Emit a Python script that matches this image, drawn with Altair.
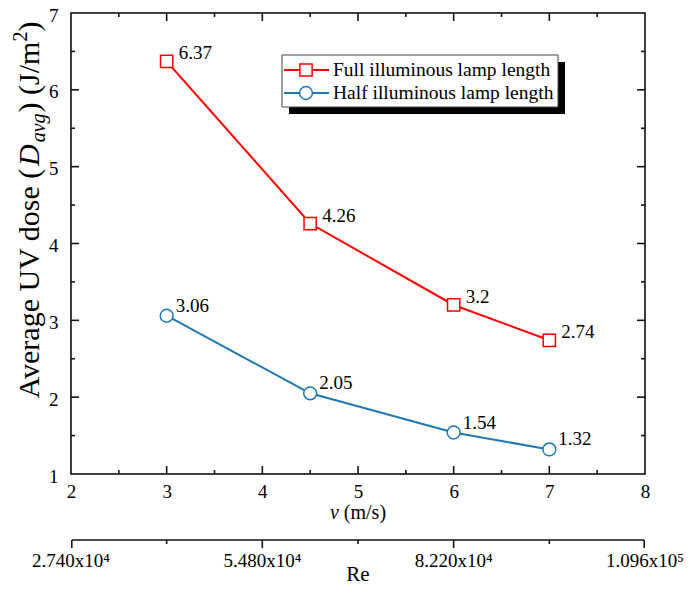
import altair as alt
import pandas as pd

# ---------------- data ----------------
velocity = [3, 4.5, 6, 7]
dose_full = [6.37, 4.26, 3.2, 2.74]
dose_half = [3.06, 2.05, 1.54, 1.32]
label_full = ["6.37", "4.26", "3.2", "2.74"]
label_half = ["3.06", "2.05", "1.54", "1.32"]
series_names = ["Full illuminous lamp length", "Half illuminous lamp length"]

x_ticks = [2, 3, 4, 5, 6, 7, 8]
x_minor = [2.5, 3.5, 4.5, 5.5, 6.5, 7.5]
y_ticks = [1, 2, 3, 4, 5, 6, 7]
y_minor = [1.5, 2.5, 3.5, 4.5, 5.5, 6.5]
# secondary Re axis: tick positions (in v units) where the Re ticks sit, and their labels
re_tick_pos = [2, 4, 6, 8]
re_minor_pos = [3, 5, 7]
re_labels = ["2.740x10\u2074", "5.480x10\u2074", "8.220x10\u2074", "1.096x10\u2075"]

RED = "#ff0000"
BLUE = "#1f78b4"
DARK = "#141414"
SERIF = "Liberation Serif"
W, H = 574, 461
RE_Y = H + 66
XPX = W / 6.0   # pixels per v unit (domain 2..8)
YPX = H / 6.0   # pixels per dose unit (domain 1..7)

rows = []
for v, d, l in zip(velocity, dose_full, label_full):
    rows.append({"v": v, "dose": d, "label": l, "series": series_names[0]})
for v, d, l in zip(velocity, dose_half, label_half):
    rows.append({"v": v, "dose": d, "label": l, "series": series_names[1]})
df = pd.DataFrame(rows)

xs = alt.Scale(domain=[2, 8], nice=False, zero=False)
ys = alt.Scale(domain=[1, 7], nice=False, zero=False)
cs = alt.Scale(domain=series_names, range=[RED, BLUE])

AX = alt.Axis(values=x_ticks, title=None, ticks=False, tickSize=0, domain=False, grid=False,
              labelPadding=8, labelFontSize=19, labelFont=SERIF, labelColor="black",
              labelFlush=False, labelOverlap=False)
AY = alt.Axis(values=y_ticks, title=None, ticks=False, tickSize=0, domain=False, grid=False,
              labelPadding=13, labelFontSize=19, labelFont=SERIF, labelColor="black",
              labelFlush=False, labelOverlap=False, labelOffset=2)

X = alt.X("v:Q", scale=xs, axis=AX)
Y = alt.Y("dose:Q", scale=ys, axis=AY)

lines = alt.Chart(df).mark_line(strokeWidth=2).encode(
    x=X, y=Y, color=alt.Color("series:N", scale=cs, legend=None))

points = alt.Chart(df).mark_point(filled=False, fill="white", fillOpacity=1, opacity=1,
                                  strokeWidth=1.5).encode(
    x=X, y=Y,
    color=alt.Color("series:N", scale=cs, legend=None),
    shape=alt.Shape("series:N", scale=alt.Scale(domain=series_names, range=["square", "circle"]), legend=None),
    size=alt.Size("series:N", scale=alt.Scale(domain=series_names, range=[150, 165]), legend=None),
)

lab_full = alt.Chart(df).transform_filter(alt.datum.series == series_names[0]).mark_text(
    align="left", baseline="middle", dx=12, dy=-8, font=SERIF, fontSize=19, color="black"
).encode(x=X, y=Y, text="label:N")
lab_half = alt.Chart(df).transform_filter(alt.datum.series == series_names[1]).mark_text(
    align="left", baseline="middle", dx=9, dy=-10, font=SERIF, fontSize=19, color="black"
).encode(x=X, y=Y, text="label:N")

one = pd.DataFrame({"k": [0]})

def seg(x0, x1, y0, y1, width=1.6):
    """A decorative line segment (frame/axis tick) in pixel units."""
    return alt.Chart(one).mark_rule(color=DARK, strokeWidth=width).encode(
        x=alt.value(x0), x2=alt.value(x1), y=alt.value(y0), y2=alt.value(y1))

def xpix(v):
    return (v - 2) * XPX

def ypix(d):
    return H - (d - 1) * YPX

# ---- inward frame ticks on all four sides ----
ticks = []
for vals, ln in ((x_ticks[1:-1], 8), (x_minor, 4)):
    for v in vals:
        px = xpix(v)
        ticks.append(seg(px, px, H, H - ln))
        ticks.append(seg(px, px, 0, ln))
for vals, ln in ((y_ticks[1:-1], 8), (y_minor, 4)):
    for d in vals:
        py = ypix(d)
        ticks.append(seg(0, ln, py, py))
        ticks.append(seg(W, W - ln, py, py))

# ---- secondary Re axis ----
re_axis = [seg(1, W - 1, RE_Y, RE_Y)]
for v in re_tick_pos:
    px = min(max(xpix(v), 0.8), W - 0.8)
    re_axis.append(seg(px, px, RE_Y, RE_Y + 8))
for v in re_minor_pos:
    px = xpix(v)
    re_axis.append(seg(px, px, RE_Y, RE_Y + 4))
re_df = pd.DataFrame({"v": re_tick_pos, "lab": re_labels})
re_axis.append(alt.Chart(re_df).mark_text(font=SERIF, fontSize=19, color="black", align="center",
                                          baseline="middle").encode(x=X, y=alt.value(RE_Y + 21), text="lab:N"))


def txt(s, x, y, size, italic=False, angle=0, align="left", baseline="alphabetic"):
    kw = dict(text=s, font=SERIF, fontSize=size, color="black", align=align, baseline=baseline)
    if italic:
        kw["fontStyle"] = "italic"
    if angle:
        kw["angle"] = angle
    return alt.Chart(one).mark_text(**kw).encode(x=alt.value(x), y=alt.value(y))

# Y title built from segments (rotated)
WID = {" ": 250, "(": 333, ")": 333, "/": 278, "A": 722, "U": 722, "V": 722, "J": 389,
       "a": 444, "d": 500, "e": 444, "g": 500, "m": 778, "o": 500, "r": 333, "s": 389,
       "v": 500, "2": 500}
WID_I = {"D": 722, "a": 500, "v": 444, "g": 500}

def width(s, size, italic=False):
    tab = WID_I if italic else WID
    return sum(tab[c] for c in s) / 1000 * size

F, FS = 30, 20
segs = [
    ("Average UV dose (", F, False, 0, 0),
    ("D", F, True, 0, 2),
    ("avg", FS, True, 6, 1),
    (") (J/m", F, False, 0, 0),
    ("2", FS, False, -12, 0),
    (")", F, False, 0, 0),
]
total = sum(width(s, sz, it) + gap for s, sz, it, sh, gap in segs)
base_x = -32
ycur = 197 + total / 2
ytitle = []
for s, sz, it, sh, gap in segs:
    ytitle.append(txt(s, base_x + sh, ycur, sz, italic=it, angle=270))
    ycur -= width(s, sz, it) + gap

# X title
FX = 20
wv = width("v", FX, True)
wrest = width("(m/s)", FX)
x0 = W / 2 - (wv + 5 + wrest) / 2
xtitle = [txt("v", x0, 506, FX, italic=True), txt("(m/s)", x0 + wv + 5, 506, FX)]

# Re title
retitle = [txt("Re", W / 2, 568, 21, align="center")]

# Legend (manual, with drop shadow)
LX0, LX1, LY0, LY1 = 211, 487, 42, 94
legend = [
    alt.Chart(one).mark_rect(color="#000000").encode(
        x=alt.value(LX0 + 7), x2=alt.value(LX1 + 7), y=alt.value(LY0 + 7), y2=alt.value(LY1 + 7)),
    alt.Chart(one).mark_rect(fill="white", stroke="#444444", strokeWidth=1).encode(
        x=alt.value(LX0), x2=alt.value(LX1), y=alt.value(LY0), y2=alt.value(LY1)),
]
for i, (name, col, shp, sz) in enumerate(zip(series_names, [RED, BLUE], ["square", "circle"], [150, 165])):
    yy = 57 + 23 * i
    legend.append(alt.Chart(one).mark_rule(color=col, strokeWidth=2).encode(
        x=alt.value(LX0 + 2), x2=alt.value(LX0 + 47), y=alt.value(yy)))
    legend.append(alt.Chart(one).mark_point(shape=shp, size=sz, filled=False, fill="white",
                                            fillOpacity=1, opacity=1, color=col, strokeWidth=1.5).encode(
        x=alt.value(LX0 + 24), y=alt.value(yy)))
    legend.append(txt(name, LX0 + 51, yy, 19.5, baseline="middle"))

chart = alt.layer(
    lines, points, lab_full, lab_half,
    *legend, *ytitle, *xtitle, *retitle,
    *ticks, *re_axis,
).properties(
    width=W, height=H,
    background="white",
    padding={"left": 63, "top": 5, "right": 39, "bottom": 112},
    autosize=alt.AutoSizeParams(type="none"),
).configure_view(stroke="black", strokeWidth=1.5)

chart.save("out.html", embed_options={"renderer": "svg", "actions": False})
